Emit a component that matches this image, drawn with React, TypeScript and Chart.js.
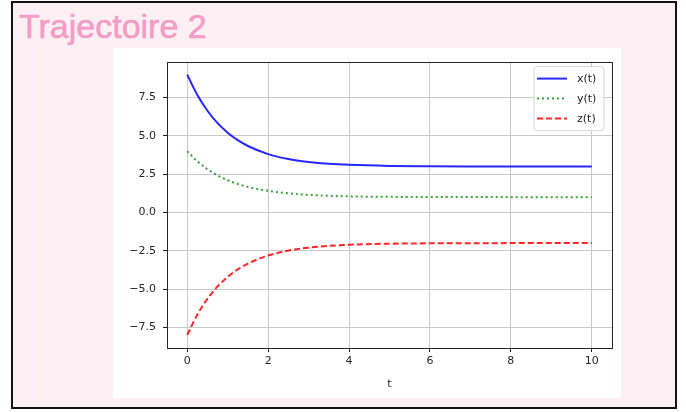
import React, { useEffect, useRef } from 'react';
import { Chart, registerables } from 'chart.js';

Chart.register(...registerables);

const T = [0, 0.25, 0.5, 0.75, 1, 1.25, 1.5, 2, 2.5, 3, 3.5, 4, 5, 6, 7, 8, 9, 10];
const X_VALUES = [9, 7.67, 6.64, 5.83, 5.21, 4.72, 4.34, 3.81, 3.49, 3.3, 3.18, 3.11, 3.04, 3.015, 3.006, 3.002, 3.001, 3.0];
const Y_VALUES = [4, 3.34, 2.82, 2.42, 2.1, 1.86, 1.67, 1.41, 1.25, 1.15, 1.09, 1.05, 1.02, 1.007, 1.003, 1.001, 1.0, 1.0];
const Z_VALUES = [-8, -6.67, -5.64, -4.83, -4.21, -3.72, -3.34, -2.81, -2.49, -2.3, -2.18, -2.11, -2.04, -2.015, -2.006, -2.002, -2.001, -2.0];
const X_TICKS = [0, 2, 4, 6, 8, 10];
const Y_TICKS = [-7.5, -5, -2.5, 0, 2.5, 5, 7.5];
const SERIES_LABELS = ['x(t)', 'y(t)', 'z(t)'];
const X_AXIS_LABEL = 't';
const TITLE = 'Trajectoire 2';

const TICK_FONT = { family: '"DejaVu Sans", sans-serif', size: 11 };

const framePlugin = {
  id: 'framePlugin',
  afterDraw(chart: any) {
    const { ctx, chartArea } = chart;
    const { left, right, top, bottom } = chartArea;
    ctx.save();
    ctx.strokeStyle = '#262626';
    ctx.lineWidth = 1;
    ctx.strokeRect(Math.round(left) + 0.5, Math.round(top) + 0.5, Math.round(right - left), Math.round(bottom - top));

    ctx.fillStyle = '#262626';
    ctx.font = '11px "DejaVu Sans", sans-serif';
    ctx.textAlign = 'center';
    ctx.textBaseline = 'middle';
    ctx.fillText(X_AXIS_LABEL, (left + right) / 2, bottom + 36);

    const bw = 70;
    const bh = 64;
    const bx = right - 8 - bw;
    const by = top + 5;
    ctx.beginPath();
    const r = 3;
    ctx.moveTo(bx + r, by);
    ctx.lineTo(bx + bw - r, by);
    ctx.quadraticCurveTo(bx + bw, by, bx + bw, by + r);
    ctx.lineTo(bx + bw, by + bh - r);
    ctx.quadraticCurveTo(bx + bw, by + bh, bx + bw - r, by + bh);
    ctx.lineTo(bx + r, by + bh);
    ctx.quadraticCurveTo(bx, by + bh, bx, by + bh - r);
    ctx.lineTo(bx, by + r);
    ctx.quadraticCurveTo(bx, by, bx + r, by);
    ctx.closePath();
    ctx.fillStyle = 'rgba(255,255,255,0.85)';
    ctx.fill();
    ctx.strokeStyle = '#d4d4d4';
    ctx.lineWidth = 1;
    ctx.stroke();

    chart.data.datasets.forEach((ds: any, i: number) => {
      const ry = by + 12 + i * 20;
      ctx.beginPath();
      ctx.strokeStyle = ds.borderColor;
      ctx.lineWidth = ds.borderWidth;
      ctx.setLineDash(ds.borderDash || []);
      ctx.moveTo(bx + 3, ry);
      ctx.lineTo(bx + 33, ry);
      ctx.stroke();
      ctx.setLineDash([]);
      ctx.fillStyle = '#222';
      ctx.textAlign = 'left';
      ctx.textBaseline = 'middle';
      ctx.fillText(ds.label, bx + 43, ry + 1);
    });
    ctx.restore();
  },
};

function fmtY(v: number) {
  return v.toFixed(1).replace('-', '\u2212');
}

export default function App() {
  const canvasRef = useRef<HTMLCanvasElement | null>(null);

  useEffect(() => {
    const canvas = canvasRef.current;
    if (!canvas) return;
    const mk = (vals: number[]) => T.map((t, i) => ({ x: t, y: vals[i] }));
    const chart = new Chart(canvas, {
      type: 'line',
      data: {
        datasets: [
          {
            label: SERIES_LABELS[0],
            data: mk(X_VALUES),
            borderColor: 'rgba(0,0,255,0.85)',
            borderWidth: 2,
            pointRadius: 0,
            cubicInterpolationMode: 'monotone',
          },
          {
            label: SERIES_LABELS[1],
            data: mk(Y_VALUES),
            borderColor: 'rgba(0,140,0,0.8)',
            borderWidth: 2,
            borderDash: [2, 3],
            pointRadius: 0,
            cubicInterpolationMode: 'monotone',
          },
          {
            label: SERIES_LABELS[2],
            data: mk(Z_VALUES),
            borderColor: 'rgba(255,0,0,0.85)',
            borderWidth: 2,
            borderDash: [6, 3],
            pointRadius: 0,
            cubicInterpolationMode: 'monotone',
          },
        ],
      },
      options: {
        animation: false,
        responsive: false,
        maintainAspectRatio: false,
        layout: { padding: { top: 9, right: 9, left: 0, bottom: 0 } },
        plugins: { legend: { display: false }, tooltip: { enabled: false } },
        scales: {
          x: {
            type: 'linear',
            min: -0.5,
            max: 10.5,
            afterBuildTicks: (s: any) => {
              s.ticks = X_TICKS.map((v) => ({ value: v }));
            },
            afterFit: (s: any) => {
              s.height = 50;
            },
            ticks: {
              font: TICK_FONT,
              color: '#262626',
              padding: 3,
              maxRotation: 0,
              autoSkip: false,
              callback: (v: any) => String(v),
            },
            grid: {
              color: '#c8c8c8',
              lineWidth: 1,
              tickLength: 4,
              tickColor: '#262626',
              tickWidth: 1,
            },
            border: { display: false },
          },
          y: {
            type: 'linear',
            min: -8.85,
            max: 9.85,
            afterBuildTicks: (s: any) => {
              s.ticks = Y_TICKS.map((v) => ({ value: v }));
            },
            afterFit: (s: any) => {
              s.width = 54;
            },
            ticks: {
              font: TICK_FONT,
              color: '#262626',
              padding: 7,
              autoSkip: false,
              callback: (v: any) => fmtY(Number(v)),
            },
            grid: {
              color: '#c8c8c8',
              lineWidth: 1,
              tickLength: 4,
              tickColor: '#262626',
              tickWidth: 1,
            },
            border: { display: false },
          },
        },
      },
      plugins: [framePlugin],
    } as any);
    return () => chart.destroy();
  }, []);

  return (
    <div style={{ position: 'absolute', left: 0, top: 0, width: 686, height: 412, background: '#ffffff', overflow: 'hidden' }}>
      <div
        style={{
          position: 'absolute',
          left: 11,
          top: 1,
          width: 662,
          height: 404,
          border: '2px solid #111',
          background: '#fdf0f5',
        }}
      />
      <div
        style={{
          position: 'absolute',
          left: 40,
          top: 47,
          width: 3,
          height: 358,
          background: '#fdf0ef',
        }}
      />
      <div
        style={{
          position: 'absolute',
          left: 19,
          top: 9,
          fontFamily: '"Liberation Sans", Arial, sans-serif',
          fontSize: 34,
          lineHeight: '34px',
          color: '#f39cc6',
          WebkitTextStroke: '0.6px #f39cc6',
          whiteSpace: 'nowrap',
        }}
      >
        {TITLE}
      </div>
      <div style={{ position: 'absolute', left: 113, top: 48, width: 508, height: 350, background: '#ffffff' }}>
        <canvas ref={canvasRef} width={508} height={350} style={{ display: 'block', width: 508, height: 350 }} />
      </div>
    </div>
  );
}
